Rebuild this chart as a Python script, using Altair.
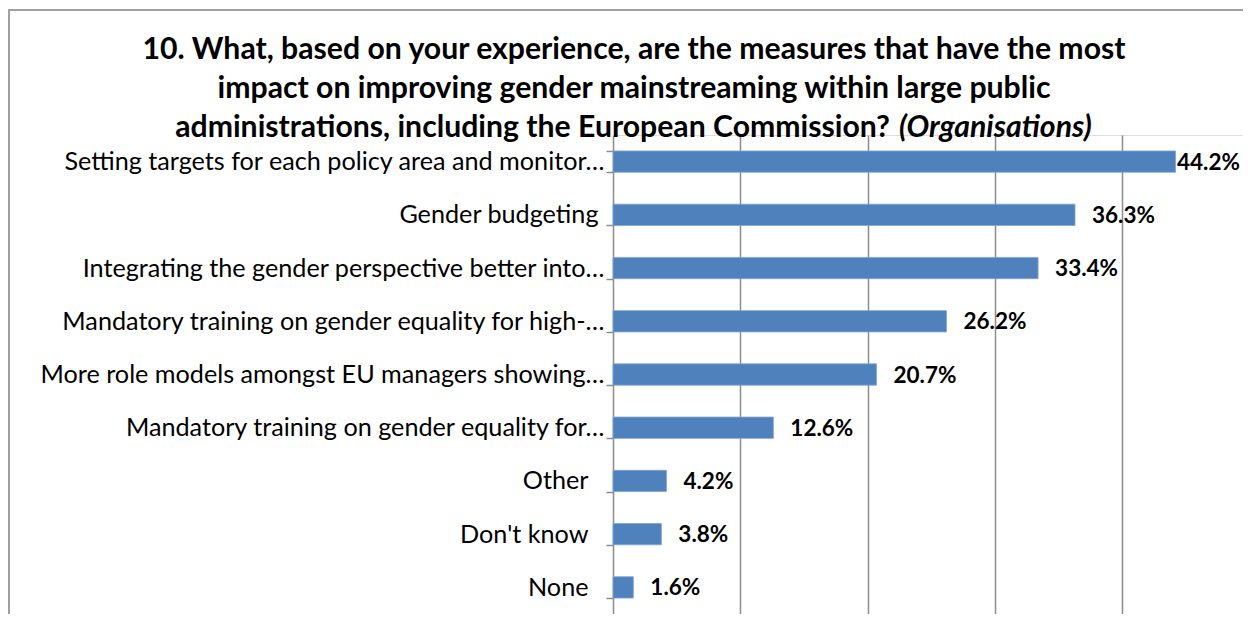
import altair as alt
import pandas as pd

categories = [
    "Setting targets for each policy area and monitor\u2026",
    "Gender budgeting",
    "Integrating the gender perspective better into\u2026",
    "Mandatory training on gender equality for high-\u2026",
    "More role models amongst EU managers showing\u2026",
    "Mandatory training on gender equality for\u2026",
    "Other",
    "Don't know",
    "None",
]
values = [44.2, 36.3, 33.4, 26.2, 20.7, 12.6, 4.2, 3.8, 1.6]

title_lines = [
    "10. What, based on your experience, are the measures that have the most",
    "impact on improving gender mainstreaming within large public",
]
title_line3_bold = "administrations, including the European Commission?"
title_line3_italic = "(Organisations)"

FONT = "Lato"
GRAY = "#8c8c8c"
W, H = 630, 479
XMAX = 49.5

df = pd.DataFrame({"cat": categories, "value": values})
one = pd.DataFrame({"a": [0]})

base = alt.Chart(df)

pad_expr = (
    "(datum.label == 'Other' || datum.label == \"Don't know\" || datum.label == 'None') ? 18 : "
    "(datum.label == 'Gender budgeting' ? 8 : 2)"
)

bars = base.mark_bar(color="#4F81BD", stroke="#7ea3d6", strokeWidth=0.8).encode(
    x=alt.X(
        "value:Q",
        scale=alt.Scale(domain=[0, XMAX], nice=False),
        axis=alt.Axis(
            values=[10, 20, 30, 40],
            grid=True,
            gridColor=GRAY,
            gridWidth=1.5,
            gridOpacity=1,
            labels=False,
            ticks=False,
            domain=False,
            title=None,
        ),
    ),
    y=alt.Y(
        "cat:N",
        sort=categories,
        scale=alt.Scale(paddingInner=0.6, paddingOuter=0.3),
        axis=alt.Axis(
            title=None,
            grid=False,
            tickBand="extent",
            tickSize=7,
            tickColor=GRAY,
            tickWidth=1.5,
            domainColor=GRAY,
            domainWidth=1.5,
            labelFont=FONT,
            labelFontSize=25.2,
            labelColor="#000000",
            labelPadding=alt.ExprRef(expr=pad_expr),
            labelLimit=1000,
        ),
    ),
)

texts = base.transform_calculate(
    label="format(datum.value, '.1f') + '%'"
).mark_text(
    align="left", baseline="middle",
    dx=alt.ExprRef(expr="min(17, width - scale('x', datum.value) - 66)"),
    dy=1, font=FONT, fontSize=22.5, fontWeight="bold", color="#000000"
).encode(
    x="value:Q",
    y=alt.Y("cat:N", sort=categories),
    text="label:N",
)

TFS = 30.2
title_layers = []
ys = [-76, -37]
for line, yv in zip(title_lines, ys):
    title_layers.append(
        alt.Chart(one).mark_text(
            text=line, align="center", baseline="alphabetic", font=FONT,
            fontSize=TFS, fontWeight="bold", color="#000000"
        ).encode(x=alt.value(21), y=alt.value(yv))
    )
title_layers.append(
    alt.Chart(one).mark_text(
        text=title_line3_bold, align="right", baseline="alphabetic", font=FONT,
        fontSize=TFS, fontWeight="bold", color="#000000"
    ).encode(x=alt.value(277), y=alt.value(2))
)
title_layers.append(
    alt.Chart(one).mark_text(
        text=title_line3_italic, align="left", baseline="alphabetic", font=FONT,
        fontSize=TFS, fontWeight="bold", fontStyle="italic", color="#000000"
    ).encode(x=alt.value(286), y=alt.value(2))
)

frame_left = alt.Chart(one).mark_rule(color="#a0a0a0", strokeWidth=2).encode(
    x=alt.value(-604), y=alt.value(-125), y2=alt.value(H + 20)
)
frame_top = alt.Chart(one).mark_rule(color="#a0a0a0", strokeWidth=2).encode(
    x=alt.value(-605), x2=alt.value(W + 20), y=alt.value(-125)
)

chart = alt.layer(
    frame_left, frame_top, bars, texts, *title_layers
).properties(
    width=W,
    height=H,
    autosize=alt.AutoSizeParams(type="none"),
    padding={"left": 605, "top": 127, "right": 0, "bottom": 0},
).configure_view(stroke=None).configure(background="white")

chart.save("out.html", embed_options={"renderer": "svg", "actions": False})
